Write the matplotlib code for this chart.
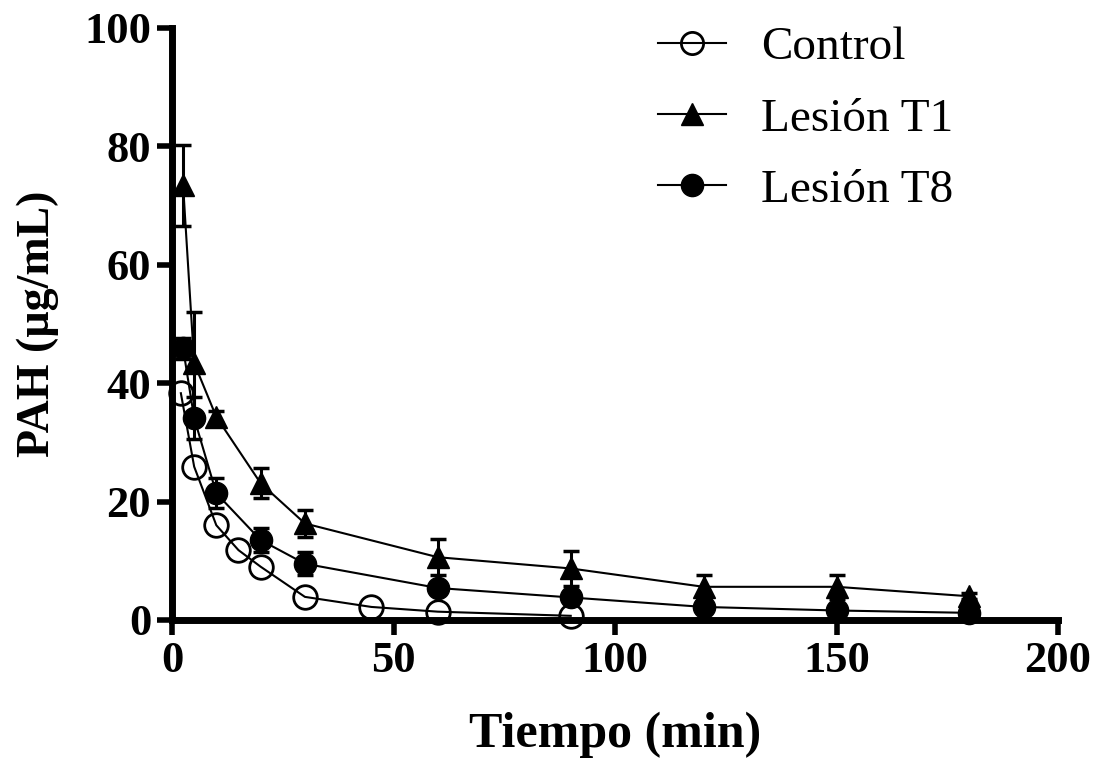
import matplotlib
matplotlib.use("Agg")
import matplotlib.pyplot as plt

# data
t_control = [2, 5, 10, 15, 20, 30, 45, 60, 90]
control = [38.3, 25.9, 16.0, 11.8, 9.0, 3.9, 2.2, 1.4, 0.7]

t_lesion = [2.5, 5, 10, 20, 30, 60, 90, 120, 150, 180]
t1 = [73.4, 43.4, 34.3, 23.1, 16.3, 10.6, 8.7, 5.6, 5.6, 4.0]
t1_err = [6.8, 8.7, 1.0, 2.5, 2.3, 3.0, 2.9, 2.0, 2.0, 0.5]
t8 = [45.9, 34.1, 21.4, 13.5, 9.5, 5.4, 3.8, 2.2, 1.6, 1.2]
t8_err = [1.8, 3.6, 2.5, 2.1, 1.9, 0.8, 0.8, 0.6, 0.5, 0.3]

plt.rcParams['font.family'] = ['Liberation Serif', 'DejaVu Serif']

fig = plt.figure(figsize=(10.97, 7.62), dpi=100)
ax = fig.add_axes([0.1568, 0.1864, 0.9645 - 0.1568, 0.9633 - 0.1864])

err_kw = dict(color='black', lw=1.5, elinewidth=2.2, capsize=6, capthick=2.5, clip_on=False)

ax.plot(t_control, control, color='black', lw=1.5, marker='o', ms=17,
        mfc='none', mec='black', mew=2, label='Control', zorder=3, clip_on=False)
ax.errorbar(t_lesion, t1, yerr=t1_err, marker='^', ms=16,
            mfc='black', mec='black', label='Lesión T1', zorder=4, **err_kw)
ax.errorbar(t_lesion, t8, yerr=t8_err, marker='o', ms=16,
            mfc='black', mec='black', label='Lesión T8', zorder=5, **err_kw)

ax.set_xlim(0, 200)
ax.set_ylim(0, 100)
ax.set_xticks([0, 50, 100, 150, 200])
ax.set_yticks([0, 20, 40, 60, 80, 100])

for s in ['top', 'right']:
    ax.spines[s].set_visible(False)
for s in ['left', 'bottom']:
    ax.spines[s].set_linewidth(5)
ax.tick_params(width=4, length=11, labelsize=32, pad=4)
for lab in ax.get_xticklabels() + ax.get_yticklabels():
    lab.set_fontweight('bold')

ax.set_xlabel('Tiempo (min)', fontsize=36, fontweight='bold', labelpad=22)
ax.set_ylabel('PAH (µg/mL)', fontsize=33, fontweight='bold', labelpad=18)

handles, labels = ax.get_legend_handles_labels()
handles = [h[0] if hasattr(h, 'lines') else h for h in handles]
leg = ax.legend(handles, labels, loc='upper left', bbox_to_anchor=(0.5, 1.075),
                frameon=False, fontsize=34, handlelength=1.45,
                handletextpad=0.75, labelspacing=0.6)
for h in leg.legend_handles:
    h.set_markersize(16)

fig.savefig('out.png', dpi=100)
